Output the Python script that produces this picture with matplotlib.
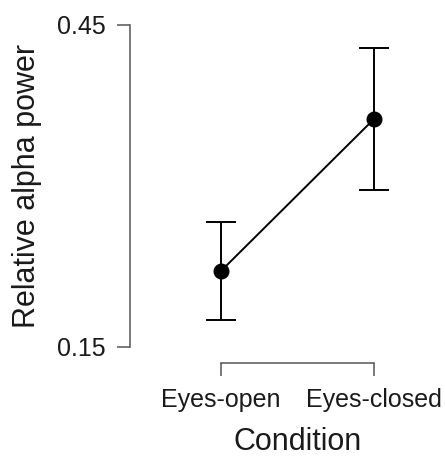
import matplotlib
matplotlib.use("Agg")
import matplotlib.pyplot as plt

# values
conditions = ["Eyes-open", "Eyes-closed"]
means = [0.2205, 0.362]
lower = [0.1745, 0.296]
upper = [0.2665, 0.428]

plt.rcParams["font.family"] = ["Liberation Sans", "DejaVu Sans"]

xpos = list(range(1, len(conditions) + 1))
err = [[m - lo for m, lo in zip(means, lower)],
       [hi - m for m, hi in zip(means, upper)]]

fig = plt.figure(figsize=(4.45, 4.59), dpi=100)
ax = fig.add_axes([130 / 445, 1 - 346.7 / 459, 310 / 445, 322.2 / 459])

ax.errorbar(xpos, means, yerr=err, color="black", lw=1.4, capsize=10.8,
            capthick=1.4, marker="o", markersize=10.5, zorder=3)

ax.set_ylim(0.15, 0.45)
ax.set_xlim(1 - 91 / 153, 2 + 66 / 153)
ax.set_yticks([0.15, 0.45])
ax.set_yticklabels(["0.15", "0.45"])
ax.set_xticks(xpos)
ax.set_xticklabels(conditions)

for side in ["top", "right"]:
    ax.spines[side].set_visible(False)
ax.spines["left"].set_bounds(0.15, 0.45)
ax.spines["bottom"].set_bounds(1, 2)
ax.spines["bottom"].set_position(("outward", 12))
for side in ["left", "bottom"]:
    ax.spines[side].set_color("#555555")
    ax.spines[side].set_linewidth(1.1)

ax.tick_params(axis="both", direction="out", length=9.5, width=1.1,
               color="#555555", labelsize=18, labelcolor="#1a1a1a", pad=8)

ax.set_ylabel("Relative alpha power", fontsize=22, color="#1a1a1a")
ax.set_xlabel("Condition", fontsize=22, color="#1a1a1a")
ax.yaxis.set_label_coords(-0.285, 0.5)
ax.xaxis.set_label_coords(0.54, -0.25)

fig.savefig("out.png", dpi=100)
